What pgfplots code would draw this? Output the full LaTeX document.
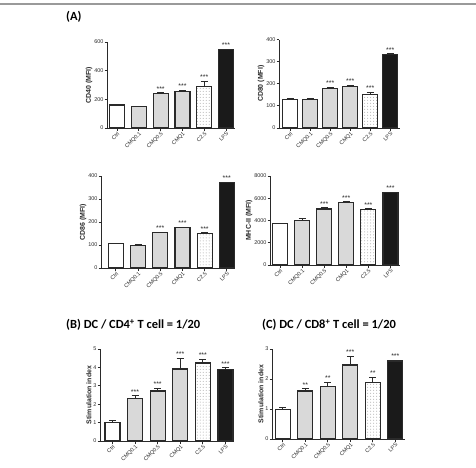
\documentclass[border=0pt]{standalone}
\usepackage{fontspec}
\setmainfont{Liberation Sans}
\newfontfamily\carlito{Carlito}
\usepackage{pgfplots}
\pgfplotsset{compat=1.18}
\usepackage{pgfplotstable}
\usetikzlibrary{patterns}

\definecolor{edge}{HTML}{2A2A2A}
\definecolor{cmq}{HTML}{D9D9D9}
\definecolor{lps}{HTML}{1A1A1A}
\definecolor{frame}{HTML}{9A9A9A}

% mean, upper error (SEM) and significance marks
\pgfplotstableread{
x y e s
0 160 3 {}
1 149 3 {}
2 242 5 ***
3 257 5 ***
4 292 35 ***
5 545 6 ***
}\cdforty
\pgfplotstableread{
x y e s
0 130 4 {}
1 130 3 {}
2 178 5 ***
3 188 5 ***
4 153 9 ***
5 331 5 ***
}\cdeighty
\pgfplotstableread{
x y e s
0 106 2 {}
1 99 3 {}
2 154 2 ***
3 176 2 ***
4 150 3 ***
5 371 2 ***
}\cdeightysix
\pgfplotstableread{
x y e s
0 3745 30 {}
1 3985 220 {}
2 5030 110 ***
3 5600 80 ***
4 5005 50 ***
5 6500 60 ***
}\mhc
\pgfplotstableread{
x y e s
0 1.00 0.13 {}
1 2.33 0.12 ***
2 2.72 0.15 ***
3 3.91 0.60 ***
4 4.24 0.19 ***
5 3.87 0.10 ***
}\sicdfour
\pgfplotstableread{
x y e s
0 0.99 0.06 {}
1 1.60 0.07 **
2 1.75 0.15 **
3 2.47 0.29 ***
4 1.88 0.18 **
5 2.60 0.03 ***
}\sicdeight

\newcommand\ticksize{\fontsize{5.5}{6}\selectfont}
\newcommand\starsize{\fontsize{7}{7}\selectfont}

\pgfplotsset{
  prism/.style={
    scale only axis, anchor=south west, clip=false,
    axis x line*=bottom, axis y line*=left,
    axis line style={-, line width=0.9pt, color=edge},
    ymin=0,
    xtick={0,...,5},
    xticklabels={Ctrl,CMQ0.1,CMQ0.5,CMQ1,C2.5,LPS},
    tick align=outside, major tick length=2.5bp,
    every tick/.style={line width=0.8pt, color=edge},
    minor tick num=0,
    x tick label style={rotate=45, anchor=north east, font=\ticksize, inner sep=0.4pt, text=edge},
    y tick label style={font=\ticksize, inner sep=0.8pt, text=edge},
    /pgf/number format/assume math mode=true,
    /pgf/number format/1000 sep={},
    scaled y ticks=false,
    ylabel style={font=\bfseries\fontsize{7}{8}\selectfont, inner sep=1pt, text=edge},
    ybar, bar width=15bp, bar shift=0pt,
    every axis plot/.append style={draw=edge, line width=1.2pt},
  },
  errs/.style={
    error bars/.cd, y dir=plus, y explicit,
    error bar style={line width=1pt, color=edge},
    error mark options={rotate=90, mark size=3.5bp, line width=1pt, color=edge},
  },
}

\newcommand\bars[1]{%
  \addplot[fill=white, restrict x to domain=-0.5:0.5, errs] table[x=x, y=y, y error=e]{#1};
  \addplot[fill=cmq, restrict x to domain=0.5:3.5, errs] table[x=x, y=y, y error=e]{#1};
  \addplot[fill=white, postaction={pattern=dots, pattern color=black!35},
           restrict x to domain=3.5:4.5, errs] table[x=x, y=y, y error=e]{#1};
  \addplot[fill=lps, restrict x to domain=4.5:5.5, errs] table[x=x, y=y, y error=e]{#1};
  \addplot[draw=none, fill=none, nodes near coords, point meta=explicit symbolic,
           every node near coord/.append style={font=\starsize, anchor=south, inner sep=1pt, color=edge}]
           table[x=x, y expr=\thisrow{y}+\thisrow{e}, meta=s]{#1};
}

\begin{document}
\begin{tikzpicture}
\path[use as bounding box] (0bp,0bp) rectangle (476bp,-468bp);
\draw[frame, line width=1.3bp] (0bp,-4bp) -- (476bp,-4bp);

\node[anchor=west, font=\carlito\bfseries\fontsize{12.5}{14}\selectfont, inner sep=0pt] at (66bp,-17bp) {(A)};
\node[anchor=west, font=\carlito\bfseries\fontsize{12.5}{14}\selectfont, inner sep=0pt] at (66bp,-325bp)
  {(B) DC / CD4\textsuperscript{+} T cell = 1/20};
\node[anchor=west, font=\carlito\bfseries\fontsize{12.5}{14}\selectfont, inner sep=0pt] at (262bp,-325bp)
  {(C) DC / CD8\textsuperscript{+} T cell = 1/20};

% CD40
\begin{axis}[prism, at={(107bp,-128bp)}, width=128bp, height=86bp,
  xmin=-0.46, xmax=5.41, ymax=600, ytick={0,200,400,600}, ylabel={CD40 (MFI)}]
\bars{\cdforty}
\end{axis}

% CD80
\begin{axis}[prism, at={(279bp,-128bp)}, width=121bp, height=88.5bp,
  xmin=-0.56, xmax=5.49, ymax=400, ytick={0,100,200,300,400}, ylabel={CD80 (MFI)}]
\bars{\cdeighty}
\end{axis}

% CD86
\begin{axis}[prism, at={(101bp,-268bp)}, width=134bp, height=92bp,
  xmin=-0.67, xmax=5.37, ymax=400, ytick={0,100,200,300,400}, ylabel={CD86 (MFI)}]
\bars{\cdeightysix}
\end{axis}

% MHC-II
\begin{axis}[prism, at={(270bp,-265bp)}, width=130bp, height=89bp,
  xmin=-0.45, xmax=5.43, ymax=8000, ytick={0,2000,4000,6000,8000}, ylabel={MHC-II (MFI)}]
\bars{\mhc}
\end{axis}

% stimulation index, CD4+
\begin{axis}[prism, at={(100bp,-441bp)}, width=134bp, height=92bp,
  xmin=-0.55, xmax=5.38, ymax=5, ytick={0,1,2,3,4,5}, ylabel={Stimulation index}]
\bars{\sicdfour}
\end{axis}

% stimulation index, CD8+
\begin{axis}[prism, at={(272bp,-439bp)}, width=133bp, height=90bp,
  xmin=-0.48, xmax=5.43, ymax=3, ytick={0,1,2,3}, ylabel={Stimulation index}]
\bars{\sicdeight}
\end{axis}
\end{tikzpicture}
\end{document}
